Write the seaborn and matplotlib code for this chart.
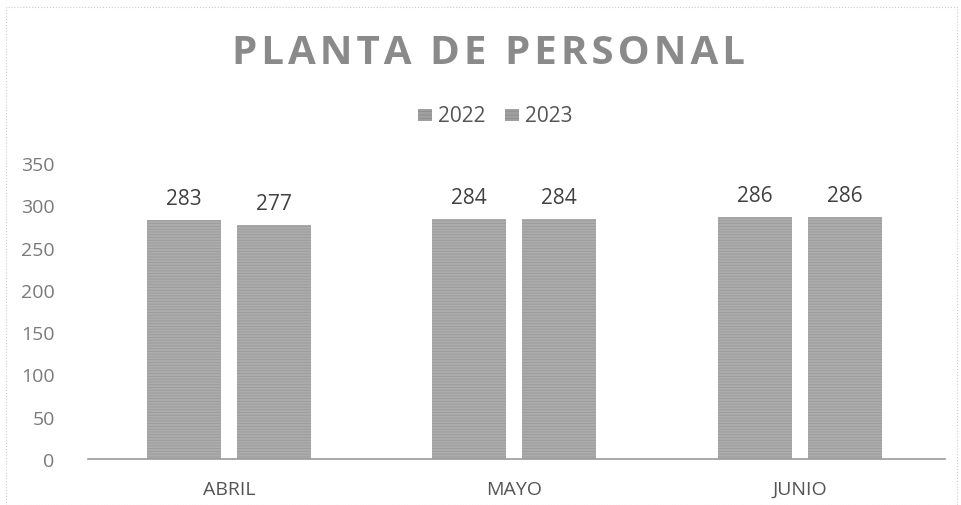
import pandas as pd
import seaborn as sns
import matplotlib.pyplot as plt
from matplotlib.patches import Rectangle

months = ['ABRIL', 'MAYO', 'JUNIO']
years = ['2022', '2023']
staff_2022 = [283, 284, 286]
staff_2023 = [277, 284, 286]

df = pd.DataFrame({
    'Mes': months * 2,
    'Año': [years[0]] * 3 + [years[1]] * 3,
    'Personal': staff_2022 + staff_2023,
})

sns.set_style('white')
plt.rcParams['font.family'] = ['Open Sans', 'DejaVu Sans']
plt.rcParams['hatch.color'] = '#8c8c8c'
plt.rcParams['hatch.linewidth'] = 0.6

fig = plt.figure(figsize=(9.61, 5.06), dpi=100)
ax = fig.add_axes([0.0916, 0.0909, 0.8914, 0.585])

pal = {'2022': '#acacac', '2023': '#acacac'}
sns.barplot(data=df, x='Mes', y='Personal', hue='Año', palette=pal,
            width=0.63, gap=0.18, ax=ax, legend=False, saturation=1)

for p in ax.patches:
    p.set_hatch('------')
    p.set_edgecolor('#9a9a9a')
    p.set_linewidth(0)

for c in ax.containers:
    ax.bar_label(c, padding=8, fontsize=15, color='#404040')

ax.set_ylim(0, 350)
ax.set_xlim(-0.493, 2.507)
ax.set_yticks(range(0, 351, 50))
ax.set_xlabel('')
ax.set_ylabel('')
ax.tick_params(axis='y', labelsize=14, labelcolor='#7a7a7a', length=0, pad=24)
ax.tick_params(axis='x', labelsize=14, labelcolor='#555555', length=0, pad=15)
for s in ['top', 'right', 'left']:
    ax.spines[s].set_visible(False)
ax.spines['bottom'].set_color('#9a9a9a')
ax.spines['bottom'].set_linewidth(1.2)

fig.text(0.508, 0.895, '\u200a'.join('PLANTA DE PERSONAL'),
         ha='center', va='center', fontsize=29, fontweight='bold', color='#8a8a8a')

# legend
ly = 1 - 116 / 506
for x0, lab in [(0.456, years[0]), (0.546, years[1])]:
    fig.patches.append(Rectangle((x0 - 0.021, ly - 0.012), 0.015, 0.024,
                                 transform=fig.transFigure, facecolor='#a0a0a0',
                                 hatch='-----', edgecolor='#8c8c8c', linewidth=0))
    fig.text(x0, ly, lab, ha='left', va='center', fontsize=15, color='#555555')

fig.patches.append(Rectangle((0.006, 0.0), 0.99, 0.985, transform=fig.transFigure,
                             fill=False, edgecolor='#cccccc', linewidth=0.8,
                             linestyle=':'))

fig.savefig('out.png', dpi=100)
